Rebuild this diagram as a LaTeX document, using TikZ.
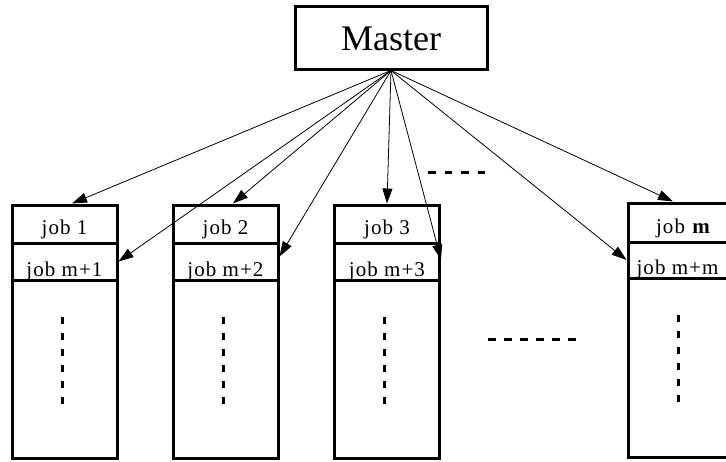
\documentclass[tikz,border=0pt]{standalone}
\usepackage{fontspec}
\usetikzlibrary{arrows.meta}
\newfontfamily\masterfont{Liberation Serif}
\newfontfamily\jobfont[LetterSpace=5]{Liberation Serif}
\tikzset{
  cell/.style={draw, line width=3pt, minimum width=105pt, inner sep=0pt},
  lbl/.style={anchor=base, inner sep=0pt, font=\jobfont\fontsize{21pt}{24pt}\selectfont},
  conn/.style={line width=0.8pt, -{Triangle[length=15pt,width=10pt]}},
  vdots/.style={line width=3pt, dash pattern=on 7pt off 9pt},
  hdots/.style={line width=3pt, dash pattern=on 8pt off 8pt},
  tdots/.style={line width=3pt, dash pattern=on 7.5pt off 9pt},
}
\begin{document}
\begin{tikzpicture}[x=1pt,y=-1pt]
\fill[white] (0,0) rectangle (726,461);
\useasboundingbox (0,0) rectangle (726,461);

% Master
\node[draw, line width=3pt, minimum width=192pt, minimum height=63pt, inner sep=0pt,
      text height=25pt, text depth=0pt,
      font=\masterfont\fontsize{36pt}{40pt}\selectfont] (master) at (391,37.5) {Master};

% columns
\foreach \n/\x in {1/64.5, 2/225.5, 3/387} {
  \node[cell, minimum height=38pt] (c\n a) at (\x,224) {};
  \node[cell, minimum height=37pt] (c\n b) at (\x,261.5) {};
  \node[cell, minimum height=178pt] (c\n c) at (\x,369) {};
  \draw[vdots] ([xshift=-2.5pt,yshift=-38pt]c\n c.north) -- ([xshift=-2.5pt,yshift=56pt]c\n c.south);
}
\node[cell, minimum height=39pt] (c4a) at (680.5,222.5) {};
\node[cell, minimum height=36pt] (c4b) at (680.5,260) {};
\node[cell, minimum height=179pt] (c4c) at (680.5,367.5) {};
\draw[vdots] ([xshift=-2.5pt,yshift=-38pt]c4c.north) -- ([xshift=-2.5pt,yshift=56pt]c4c.south);

% labels
\node[lbl] (l1a) at ([yshift=10pt]c1a.south) {job 1};
\node[lbl] (l1b) at ([yshift=5.5pt]c1b.south) {job m+1};
\node[lbl] (l2a) at ([yshift=10pt]c2a.south) {job 2};
\node[lbl] (l2b) at ([yshift=5.5pt]c2b.south) {job m+2};
\node[lbl] (l3a) at ([yshift=10pt]c3a.south) {job 3};
\node[lbl] (l3b) at ([yshift=5.5pt]c3b.south) {job m+3};
\node[lbl] (l4a) at ([xshift=3pt,yshift=10pt]c4a.south) {job \textbf{m}};
\node[lbl] (l4b) at ([xshift=-3pt,yshift=5.5pt]c4b.south) {job m+m};

% connectors
\draw[conn] (master.south) -- ([xshift=7.5pt]c1a.north);
\draw[conn] (master.south) -- (c1b.east);
\draw[conn] (master.south) -- ([xshift=7.5pt]c2a.north);
\draw[conn] (master.south) -- ([yshift=5pt]c2b.east);
\draw[conn] (master.south) -- (c3a.north);
\draw[conn] (master.south) -- ([yshift=2pt]c3b.east);
\draw[conn] (master.south) -- (c4b.west);
\draw[conn] (master.south) -- ([xshift=-7.5pt]c4a.north);

% ellipsis dashes
\coordinate (t1) at (428,172);
\coordinate (t2) at (485,172);
\draw[tdots] (t1) -- (t2);
\coordinate (h1) at (488,339);
\coordinate (h2) at (577,339);
\draw[hdots] (h1) -- (h2);
\end{tikzpicture}
\end{document}
